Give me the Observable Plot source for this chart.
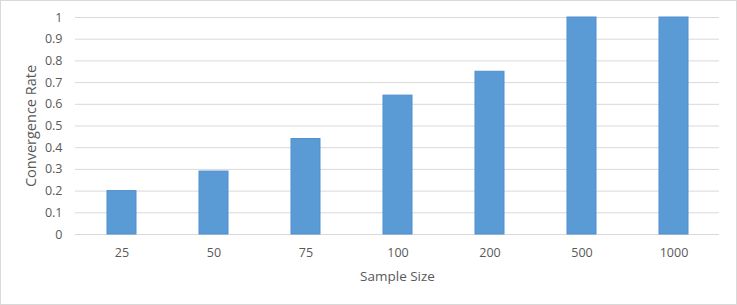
<!DOCTYPE html>
<html>
<head>
<meta charset="utf-8">
<script src="https://cdn.jsdelivr.net/npm/d3@7"></script>
<script src="https://cdn.jsdelivr.net/npm/@observablehq/plot@0.6"></script>
<style>
  html, body { margin: 0; padding: 0; background: #fff; }
  #chart svg { display: block; outline: 1px solid #d9d9d9; outline-offset: -1px; }
</style>
</head>
<body>
<div id="chart"></div>
<script>
const sampleSizes = ["25", "50", "75", "100", "200", "500", "1000"];
const convergenceRates = [0.2, 0.29, 0.44, 0.64, 0.75, 1, 1];
const yTicks = [0, 0.1, 0.2, 0.3, 0.4, 0.5, 0.6, 0.7, 0.8, 0.9, 1];

const data = sampleSizes.map((s, i) => ({size: s, rate: convergenceRates[i]}));

const chart = Plot.plot({
  width: 737,
  height: 305,
  marginLeft: 75,
  marginRight: 18,
  marginTop: 17,
  marginBottom: 71,
  style: {fontFamily: "'Open Sans', 'Noto Sans', sans-serif", fontSize: "12.5px", color: "#595959", background: "#fff"},
  x: {domain: sampleSizes, paddingInner: 0.69, paddingOuter: 0.345, label: null},
  y: {domain: [0, 1], label: null},
  marks: [
    Plot.gridY(yTicks, {stroke: "#d9d9d9", strokeOpacity: 1, strokeWidth: 1}),
    Plot.barY(data, {x: "size", y: "rate", fill: "#5B9BD5", stroke: "#4F8FCF", strokeWidth: 1}),
    Plot.axisX({tickSize: 0, tickPadding: 14, label: null, fill: "#595959", fontSize: 12.5}),
    Plot.axisY(yTicks, {tickSize: 0, tickPadding: 13, label: null, tickFormat: d => String(+d.toFixed(1)), fill: "#595959", fontSize: 12.5}),
    Plot.text(["Sample Size"], {frameAnchor: "bottom", lineAnchor: "middle", dy: 42, fontSize: 13.5, fill: "#595959"}),
    Plot.text(["Convergence Rate"], {frameAnchor: "left", textAnchor: "middle", lineAnchor: "middle", dx: -44, rotate: -90, fontSize: 14.5, fill: "#595959"})
  ]
});
document.getElementById("chart").appendChild(chart);
</script>
</body>
</html>
